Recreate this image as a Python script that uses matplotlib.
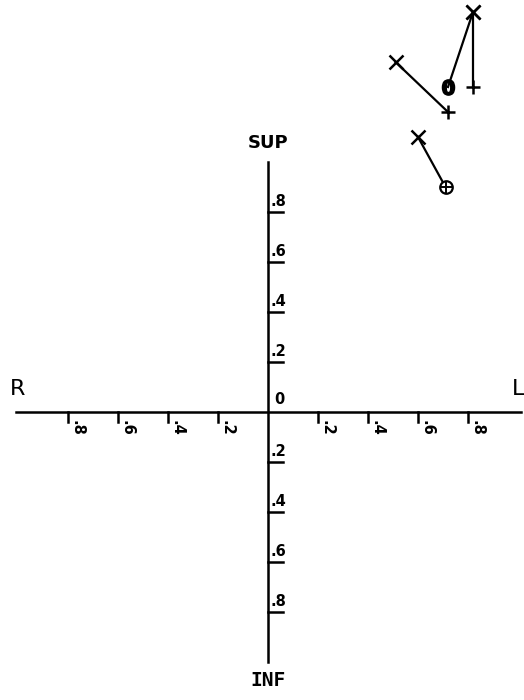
#! /usr/bin/env python3

import matplotlib
matplotlib.use("Agg")
import matplotlib.pyplot as plt

# axis graduations (both axes, both directions)
ticks = [0.2, 0.4, 0.6, 0.8]
tick_labels = [".2", ".4", ".6", ".8"]

# displacement vectors: start point (X) -> end point
start_x = [0.82, 0.82, 0.51, 0.60]
start_y = [1.60, 1.60, 1.40, 1.10]
end_x = [0.72, 0.82, 0.72, 0.71]
end_y = [1.30, 1.30, 1.20, 0.90]
end_sym = ["zero", "plus", "plus", "oplus"]

fig = plt.figure(figsize=(5.24, 7.0), dpi=100)
ax = fig.add_axes([0, 0, 1, 1])
ax.set_xlim(-1.072, 1.024)
ax.set_ylim(-1.152, 1.648)
ax.axis("off")

lw = 1.8
# main axes
ax.plot([-1.01, 1.01], [0, 0], color="black", lw=lw)
ax.plot([0, 0], [-1.0, 1.0], color="black", lw=lw)

# tick marks and labels on the horizontal axis (R / L)
for t, lab in zip(ticks, tick_labels):
	for s in (-1, 1):
		ax.plot([s * t, s * t], [0, -0.04], color="black", lw=lw)
		ax.text(s * t + 0.036, -0.062, lab, rotation=-90, fontsize=10.5, fontweight="bold",
				ha="center", va="center")

# tick marks and labels on the vertical axis (SUP / INF)
for t, lab in zip(ticks, tick_labels):
	for s in (-1, 1):
		ax.plot([0, 0.06], [s * t, s * t], color="black", lw=lw)
		ax.text(0.012, s * t + 0.042, lab, fontsize=10.5, fontweight="bold",
				ha="left", va="center")

ax.text(0.044, 0.05, "0", fontsize=10.5, fontweight="bold", ha="center", va="center")
ax.text(0, 1.076, "SUP", fontsize=13, fontweight="bold", ha="center", va="center")
ax.text(0, -1.076, "INF", fontsize=14, fontweight="bold", family="DejaVu Sans Mono",
		ha="center", va="center")
ax.text(-1.0, 0.092, "R", fontsize=16, ha="center", va="center")
ax.text(1.0, 0.092, "L", fontsize=16, ha="center", va="center")

# vectors with their end symbols
for x0, y0, x1, y1, sym in zip(start_x, start_y, end_x, end_y, end_sym):
	ax.plot([x0, x1], [y0, y1], color="black", lw=1.6)
	ax.plot(x0, y0, marker="x", ms=9.5, mew=1.8, color="black")
	if sym == "plus":
		ax.plot(x1, y1, marker="+", ms=10, mew=1.8, color="black")
	elif sym == "zero":
		ax.plot(x1, y1, marker=r"$\mathbf{0}$", ms=11, color="black")
	else:
		ax.plot(x1, y1, marker="o", ms=9, mew=1.6, mfc="white", color="black")
		ax.plot(x1, y1, marker="+", ms=9, mew=1.4, color="black")

plt.savefig("out.png", dpi=100)
plt.close()
